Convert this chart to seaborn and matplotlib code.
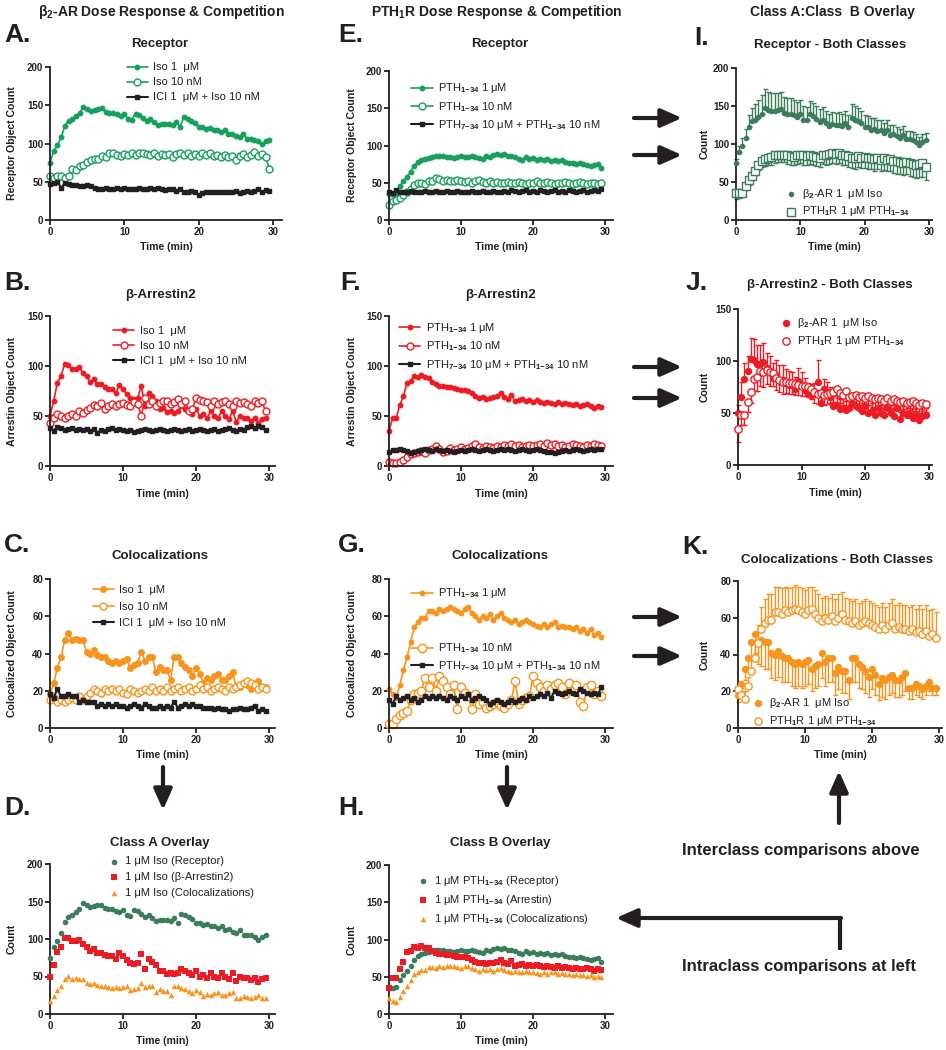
import matplotlib
matplotlib.use("Agg")
import matplotlib.pyplot as plt
import seaborn as sns

# ---- data, time in minutes ----
time_min = [0, 0.5, 1, 1.5, 2, 2.5, 3, 3.5, 4, 4.5, 5, 5.5, 6, 6.5, 7, 7.5, 8, 8.5, 9, 9.5,
            10, 10.5, 11, 11.5, 12, 12.5, 13, 13.5, 14, 14.5, 15, 15.5, 16, 16.5, 17, 17.5, 18, 18.5, 19, 19.5,
            20, 20.5, 21, 21.5, 22, 22.5, 23, 23.5, 24, 24.5, 25, 25.5, 26, 26.5, 27, 27.5, 28, 28.5, 29, 29.5]

# beta2-AR panels (A-C)
a_iso_1uM = [75, 90, 98, 108, 123, 130, 132, 136, 140, 148, 145, 143, 144, 145, 146, 141, 140, 140, 138, 136,
             139, 132, 131, 139, 137, 133, 129, 132, 128, 124, 126, 125, 125, 124, 128, 122, 134, 132, 130, 127,
             122, 122, 119, 120, 117, 118, 115, 118, 112, 113, 110, 108, 112, 106, 106, 105, 103, 99, 103, 105]
a_iso_10nM = [58, 55, 58, 57, 55, 57, 67, 66, 70, 72, 76, 78, 80, 80, 84, 83, 87, 88, 85, 84,
              86, 85, 87, 85, 88, 87, 86, 85, 87, 84, 86, 85, 86, 83, 86, 87, 85, 87, 84, 86,
              84, 87, 85, 87, 84, 85, 83, 85, 82, 84, 78, 84, 86, 83, 85, 89, 84, 86, 82, 67]
a_ici = [47, 49, 50, 42, 48, 47, 46, 46, 45, 45, 46, 44, 42, 40, 41, 42, 40, 41, 42, 41,
         42, 40, 41, 40, 42, 41, 40, 42, 41, 42, 40, 39, 40, 41, 38, 40, 37, 36, 38, 36,
         33, 35, 37, 36, 37, 36, 37, 36, 37, 36, 38, 35, 37, 38, 36, 38, 40, 37, 39, 38]

b_iso_1uM = [50, 65, 83, 90, 102, 101, 97, 97, 99, 93, 90, 84, 87, 82, 82, 79, 77, 77, 73, 81,
             77, 72, 68, 67, 68, 80, 60, 73, 70, 65, 57, 58, 54, 55, 53, 55, 60, 57, 55, 52,
             57, 50, 52, 48, 55, 50, 48, 55, 50, 47, 55, 44, 50, 48, 48, 45, 48, 43, 47, 48]
b_iso_10nM = [43, 48, 52, 50, 48, 50, 52, 50, 55, 53, 56, 58, 61, 60, 63, 57, 60, 62, 60, 62,
              63, 61, 60, 64, 62, 50, 68, 62, 65, 60, 63, 65, 65, 62, 64, 67, 62, 65, 55, 57,
              68, 66, 65, 64, 60, 65, 62, 64, 65, 62, 60, 65, 63, 64, 62, 60, 65, 63, 65, 55]
b_ici = [38, 35, 39, 38, 36, 37, 38, 36, 37, 36, 37, 35, 37, 33, 36, 35, 37, 38, 36, 37,
         36, 35, 36, 34, 35, 36, 37, 36, 35, 36, 37, 36, 35, 36, 37, 36, 35, 36, 37, 35,
         36, 37, 36, 35, 36, 37, 35, 36, 37, 38, 36, 35, 37, 36, 39, 40, 38, 40, 39, 36]

c_iso_1uM = [18, 24, 32, 38, 47, 51, 47, 48, 47, 47, 41, 40, 42, 39, 38, 38, 36, 35, 36, 35,
             36, 37, 32, 34, 35, 41, 36, 38, 38, 30, 33, 31, 31, 26, 38, 38, 35, 33, 31, 28,
             32, 29, 24, 27, 26, 28, 29, 26, 26, 28, 30, 22, 22, 24, 23, 21, 23, 25, 22, 22]
c_iso_10nM = [15, 16, 14, 15, 14, 15, 16, 15, 17, 15, 17, 19, 21, 20, 19, 21, 20, 21, 20, 21,
              19, 18, 21, 20, 19, 20, 21, 20, 22, 20, 21, 20, 22, 20, 21, 22, 20, 21, 22, 20,
              21, 23, 21, 22, 20, 21, 22, 21, 20, 22, 21, 22, 23, 24, 25, 24, 23, 21, 22, 21]
c_ici = [18, 16, 21, 17, 17, 18, 17, 17, 14, 15, 14, 14, 14, 12, 13, 12, 13, 12, 13, 12,
         12, 11, 12, 13, 12, 11, 13, 12, 11, 11, 12, 11, 12, 11, 14, 11, 12, 13, 12, 13,
         12, 12, 11, 11, 11, 10, 11, 10, 10, 9, 10, 10, 11, 10, 10, 11, 12, 9, 10, 9]

# PTH1R panels (E-G)
e_pth_1uM = [35, 35, 36, 45, 52, 58, 65, 73, 78, 80, 82, 83, 85, 86, 86, 86, 85, 84, 83, 85,
             86, 85, 84, 86, 84, 83, 82, 86, 85, 87, 88, 87, 88, 86, 86, 84, 82, 81, 84, 82,
             83, 81, 82, 80, 82, 79, 81, 79, 80, 78, 77, 76, 75, 76, 75, 74, 72, 74, 75, 70]
e_pth_10nM = [20, 25, 27, 30, 33, 38, 42, 47, 50, 50, 48, 52, 53, 57, 55, 53, 54, 52, 53, 54,
              52, 51, 53, 50, 52, 54, 51, 50, 52, 50, 51, 50, 49, 51, 50, 49, 51, 50, 48, 50,
              49, 52, 50, 49, 51, 50, 48, 50, 49, 51, 50, 48, 49, 51, 50, 48, 49, 50, 48, 49]
e_pth734 = [38, 36, 40, 37, 38, 37, 39, 38, 37, 38, 39, 37, 38, 39, 38, 37, 39, 38, 37, 39,
            38, 37, 38, 39, 37, 38, 39, 37, 38, 39, 38, 37, 39, 38, 40, 39, 38, 39, 40, 38,
            39, 38, 40, 39, 38, 39, 40, 38, 39, 38, 40, 39, 38, 39, 40, 38, 39, 40, 39, 41]

f_pth_1uM = [35, 48, 48, 61, 70, 83, 85, 90, 89, 91, 89, 88, 84, 82, 80, 80, 79, 79, 78, 77,
             76, 76, 75, 73, 70, 68, 69, 67, 68, 69, 70, 73, 69, 67, 71, 65, 66, 67, 65, 66,
             64, 66, 64, 63, 64, 63, 62, 64, 62, 63, 62, 61, 62, 60, 61, 62, 60, 58, 60, 59]
f_pth_10nM = [4, 3, 3, 4, 6, 9, 12, 13, 14, 15, 13, 16, 17, 20, 17, 14, 15, 18, 16, 17,
              19, 17, 18, 20, 22, 19, 18, 20, 19, 18, 20, 19, 21, 20, 22, 20, 21, 19, 20, 21,
              20, 21, 22, 20, 23, 21, 22, 20, 21, 19, 20, 22, 21, 20, 19, 21, 20, 22, 21, 20]
f_pth734 = [14, 16, 16, 17, 16, 15, 13, 14, 15, 16, 17, 16, 15, 17, 16, 15, 16, 15, 14, 15,
            16, 15, 16, 17, 16, 15, 16, 17, 16, 15, 16, 17, 16, 17, 16, 15, 16, 17, 16, 15,
            16, 17, 16, 15, 14, 14, 13, 14, 15, 16, 15, 16, 17, 16, 15, 16, 17, 16, 17, 17]

g_pth_1uM = [21, 18, 16, 23, 31, 38, 46, 54, 57, 59, 59, 63, 63, 62, 64, 63, 64, 65, 64, 63,
             62, 64, 65, 62, 60, 58, 60, 59, 61, 58, 60, 62, 59, 58, 57, 58, 56, 57, 58, 57,
             56, 55, 54, 56, 54, 56, 57, 54, 55, 54, 54, 53, 54, 52, 53, 51, 53, 50, 51, 49]
g_pth_10nM = [2, 2, 5, 7, 8, 9, 15, 18, 19, 20, 27, 22, 27, 20, 28, 25, 22, 18, 23, 10,
              22, 19, 17, 10, 18, 13, 14, 11, 12, 13, 14, 12, 11, 13, 15, 25, 13, 15, 16, 17,
              28, 24, 22, 20, 23, 21, 23, 24, 22, 18, 24, 20, 23, 14, 12, 22, 23, 18, 20, 17]
g_pth734 = [15, 13, 17, 15, 16, 17, 15, 16, 14, 15, 17, 16, 17, 16, 17, 16, 15, 17, 16, 15,
            17, 16, 18, 15, 16, 17, 16, 15, 13, 14, 15, 14, 13, 14, 15, 14, 15, 16, 15, 17,
            16, 17, 18, 17, 19, 16, 20, 19, 18, 19, 20, 19, 18, 21, 20, 19, 18, 19, 18, 22]

# SEM shown one-sided in the class overlays (I-K)
i_err_b2 = [5, 8, 10, 12, 15, 18, 20, 22, 25, 25, 24, 24, 23, 22, 22, 21, 21, 20, 20, 19,
            19, 18, 18, 18, 17, 17, 17, 17, 16, 16, 16, 16, 17, 16, 16, 16, 18, 18, 17, 16,
            16, 15, 15, 14, 14, 14, 13, 13, 13, 12, 12, 12, 12, 11, 11, 11, 10, 10, 10, 10]
i_err_pth = [7, 6, 6, 6, 6, 6, 6, 7, 8, 9, 10, 10, 10, 10, 10, 10, 11, 11, 11, 11,
             11, 12, 12, 12, 12, 12, 12, 12, 13, 13, 13, 13, 13, 13, 13, 14, 14, 14, 14, 14,
             14, 14, 15, 15, 15, 15, 15, 15, 15, 16, 16, 16, 16, 16, 17, 17, 17, 18, 18, 18]
j_err_b2 = [8, 15, 15, 15, 20, 20, 18, 18, 18, 15, 15, 14, 14, 14, 14, 13, 13, 12, 12, 12,
            12, 12, 11, 11, 11, 21, 10, 10, 10, 10, 9, 9, 9, 9, 9, 9, 9, 8, 8, 8,
            8, 8, 8, 8, 8, 8, 8, 8, 8, 7, 7, 7, 7, 7, 7, 7, 7, 7, 7, 7]
j_err_pth = [13, 10, 10, 10, 10, 12, 14, 14, 14, 13, 13, 12, 12, 12, 12, 11, 11, 11, 11, 10,
             10, 10, 10, 10, 10, 9, 9, 9, 9, 9, 9, 9, 9, 9, 9, 8, 8, 8, 8, 8,
             8, 8, 8, 8, 8, 8, 8, 8, 8, 8, 8, 8, 8, 8, 8, 8, 8, 8, 8, 8]
k_err_b2 = [4, 5, 6, 6, 8, 10, 12, 14, 15, 15, 14, 14, 14, 14, 13, 13, 13, 13, 13, 13,
            13, 13, 12, 12, 12, 14, 13, 13, 13, 12, 12, 12, 12, 10, 13, 13, 13, 12, 12, 11,
            11, 11, 9, 10, 10, 10, 10, 9, 9, 10, 10, 6, 6, 6, 6, 5, 5, 5, 4, 4]
k_err_pth = [3, 4, 4, 5, 6, 8, 10, 12, 13, 14, 14, 14, 14, 14, 13, 13, 13, 13, 13, 13,
             13, 13, 12, 13, 13, 13, 12, 12, 12, 12, 13, 12, 12, 12, 12, 12, 12, 12, 12, 12,
             12, 12, 12, 12, 12, 12, 13, 13, 13, 13, 13, 13, 13, 13, 14, 14, 14, 14, 14, 14]

# ---- style ----
sns.set_style("ticks")
plt.rcParams['font.family'] = ['Liberation Sans', 'DejaVu Sans']
plt.rcParams['font.weight'] = 'bold'
plt.rcParams['axes.labelweight'] = 'bold'
plt.rcParams['mathtext.fontset'] = 'custom'
plt.rcParams['mathtext.rm'] = 'Liberation Sans'
plt.rcParams['mathtext.it'] = 'Liberation Sans:italic'
plt.rcParams['mathtext.bf'] = 'Liberation Sans:bold'

INK = '#231f20'
GREEN = '#17a05d'
DKGREEN = '#3b7d5a'
RED = '#ed1c24'
ORANGE = '#f7941d'

W, H = 946, 1050
fig = plt.figure(figsize=(W / 100, H / 100), dpi=100)

# background layer in pixel coords for headers and arrows
bg = fig.add_axes([0, 0, 1, 1], zorder=-1)
bg.set_xlim(0, W)
bg.set_ylim(H, 0)
bg.axis('off')


def panel(l, t, r, b, xmax, ymax, yticks, ylabel, dist):
    ax = fig.add_axes([l / W, 1 - b / H, (r - l) / W, (b - t) / H])
    ax.set_xlim(0, xmax)
    ax.set_ylim(0, ymax)
    ax.set_xticks([0, 10, 20, 30])
    ax.set_yticks(yticks)
    sns.despine(ax=ax)
    for s in ['left', 'bottom']:
        ax.spines[s].set_linewidth(1.3)
        ax.spines[s].set_color(INK)
    ax.tick_params(length=3.5, width=1.3, labelsize=7, pad=1.5, color=INK, labelcolor=INK)
    ax.set_xlabel('Time (min)', fontsize=7.6, labelpad=4, color=INK)
    ax.set_ylabel(ylabel, fontsize=7.6, color=INK)
    ax.yaxis.set_label_coords(-(dist - 5) / (r - l), 0.5)
    ax.patch.set_alpha(0)
    return ax


def trace(ax, y, color, marker, filled, ms, label, lw=1.2):
    sns.lineplot(x=time_min, y=y, ax=ax, color=color, marker=marker, markersize=ms,
                 markerfacecolor=color if filled else 'white', markeredgecolor=color,
                 markeredgewidth=1.0, linewidth=lw, label=label, errorbar=None, clip_on=False)


def dots(ax, y, color, marker, filled, s, label, lw=1.0):
    sns.scatterplot(x=time_min, y=y, ax=ax, color=color, marker=marker, s=s,
                    facecolor=color if filled else 'white', edgecolor=color,
                    linewidth=lw if not filled else 0, label=label, clip_on=False, zorder=3)


def bars(ax, y, err, color, up=True):
    zero = [0] * len(err)
    ax.errorbar(time_min, y, yerr=[zero, err] if up else [err, zero], fmt='none', ecolor=color,
                elinewidth=1.0, capsize=1.8, capthick=1.0, clip_on=False, zorder=2)


def legend(ax, x, y, idx=None, hl=1.9, sp=0.45, fs=8):
    h, lab = ax.get_legend_handles_labels()
    if idx is not None:
        h = [h[i] for i in idx]
        lab = [lab[i] for i in idx]
    leg = ax.legend(h, lab, loc='upper left', bbox_to_anchor=(x, y), frameon=False,
                    prop={'size': fs, 'weight': 'normal'}, handlelength=hl, handletextpad=0.5,
                    labelspacing=sp, borderpad=0, borderaxespad=0)
    for t in leg.get_texts():
        t.set_color(INK)
    return leg


iso1 = 'Iso 1  μM'
iso10 = 'Iso 10 nM'
ici = 'ICI 1  μM + Iso 10 nM'
pth1 = r'PTH$_{1\mathrm{-}34}$ 1 μM'
pth10 = r'PTH$_{1\mathrm{-}34}$ 10 nM'
pth734 = r'PTH$_{7\mathrm{-}34}$ 10 μM + PTH$_{1\mathrm{-}34}$ 10 nM'

# ---- column 1: beta2-AR ----
axA = panel(50, 67, 282, 220, 31.2, 200, [0, 50, 100, 150, 200], 'Receptor Object Count', 38)
trace(axA, a_iso_1uM, GREEN, 'o', True, 3.2, iso1)
trace(axA, a_iso_10nM, GREEN, 'o', False, 5, iso10)
trace(axA, a_ici, INK, 's', True, 3.5, ici, lw=1.5)
legend(axA, 0.33, 1.03)

axB = panel(50, 316, 275, 466, 30.8, 150, [0, 50, 100, 150], 'Arrestin Object Count', 38)
trace(axB, b_iso_1uM, RED, 'o', True, 3.2, iso1)
trace(axB, b_iso_10nM, RED, 'o', False, 5, iso10)
trace(axB, b_ici, INK, 's', True, 3.5, ici, lw=1.5)
legend(axB, 0.28, 0.935)

axC = panel(50, 579, 275, 728, 30.8, 80, [0, 20, 40, 60, 80], 'Colocalized Object Count', 38)
trace(axC, c_iso_1uM, ORANGE, 'o', True, 4, iso1)
trace(axC, c_iso_10nM, ORANGE, 'o', False, 5, iso10)
trace(axC, c_ici, INK, 's', True, 3.5, ici, lw=1.5)
legend(axC, 0.19, 0.96, sp=0.6)

axD = panel(50, 864, 275, 1014, 30.8, 200, [0, 50, 100, 150, 200], 'Count', 38)
dots(axD, a_iso_1uM, DKGREEN, 'o', True, 16, '1 μM Iso (Receptor)')
dots(axD, b_iso_1uM, RED, 's', True, 18, '1 μM Iso (β-Arrestin2)')
dots(axD, c_iso_1uM, ORANGE, '^', True, 16, '1 μM Iso (Colocalizations)')
legend(axD, 0.26, 1.05, hl=1.0, sp=0.5)

# ---- column 2: PTH1R ----
axE = panel(389, 71, 613, 220, 31.1, 200, [0, 50, 100, 150, 200], 'Receptor Object Count', 37)
trace(axE, e_pth_1uM, GREEN, 'o', True, 3.2, pth1)
trace(axE, e_pth_10nM, GREEN, 'o', False, 5, pth10)
trace(axE, e_pth734, INK, 's', True, 3.5, pth734, lw=1.5)
legend(axE, 0.10, 0.93, sp=0.4)

axF = panel(389, 316, 613, 466, 31.1, 150, [0, 50, 100, 150], 'Arrestin Object Count', 37)
trace(axF, f_pth_1uM, RED, 'o', True, 3.2, pth1)
trace(axF, f_pth_10nM, RED, 'o', False, 5, pth10)
trace(axF, f_pth734, INK, 's', True, 3.5, pth734, lw=1.5)
legend(axF, 0.045, 0.965, sp=0.4)

axG = panel(389, 579, 613, 728, 31.1, 80, [0, 20, 40, 60, 80], 'Colocalized Object Count', 37)
trace(axG, g_pth_1uM, ORANGE, 'o', True, 3.2, pth1)
trace(axG, g_pth_10nM, ORANGE, 'o', False, 6, pth10)
trace(axG, g_pth734, INK, 's', True, 3.5, pth734, lw=1.5)
legG = legend(axG, 0.10, 0.95, idx=[0])
axG.add_artist(legG)
legend(axG, 0.10, 0.58, idx=[1, 2], sp=0.35)

axH = panel(389, 865, 613, 1014, 31.1, 200, [0, 50, 100, 150, 200], 'Count', 37)
dots(axH, e_pth_1uM, DKGREEN, 'o', True, 16, r'1 μM PTH$_{1\mathrm{-}34}$ (Receptor)')
dots(axH, f_pth_1uM, RED, 's', True, 18, r'1 μM PTH$_{1\mathrm{-}34}$ (Arrestin)')
dots(axH, g_pth_1uM, ORANGE, '^', True, 16, r'1 μM PTH$_{1\mathrm{-}34}$ (Colocalizations)')
legend(axH, 0.125, 0.94, hl=1.0, sp=0.45)

# ---- column 3: class A vs class B ----
b2_lab = r'β$_2$-AR 1  μM Iso'
pth_lab = r'PTH$_1$R 1 μM PTH$_{1\mathrm{-}34}$'

axI = panel(736, 68, 932, 220, 30.5, 200, [0, 50, 100, 150, 200], 'Count', 31)
bars(axI, a_iso_1uM, i_err_b2, DKGREEN, up=True)
bars(axI, e_pth_1uM, i_err_pth, DKGREEN, up=False)
dots(axI, a_iso_1uM, DKGREEN, 'o', True, 16, b2_lab)
dots(axI, e_pth_1uM, DKGREEN, 's', False, 30, pth_lab)
legend(axI, 0.25, 0.22, hl=1.0, sp=0.35)

axJ = panel(738, 309, 932, 465, 30.5, 150, [0, 50, 100, 150], 'Count', 33)
bars(axJ, b_iso_1uM, j_err_b2, RED, up=True)
bars(axJ, f_pth_1uM, j_err_pth, RED, up=False)
dots(axJ, b_iso_1uM, RED, 'o', True, 28, b2_lab)
dots(axJ, f_pth_1uM, RED, 'o', False, 28, pth_lab)
legend(axJ, 0.22, 0.955, hl=1.0, sp=0.35)

axK = panel(738, 581, 942, 728, 30.45, 80, [0, 20, 40, 60, 80], 'Count', 33)
bars(axK, c_iso_1uM, k_err_b2, ORANGE, up=False)
bars(axK, g_pth_1uM, k_err_pth, ORANGE, up=True)
dots(axK, c_iso_1uM, ORANGE, 'o', True, 28, b2_lab)
dots(axK, g_pth_1uM, ORANGE, 'o', False, 28, pth_lab)
legend(axK, 0.07, 0.22, hl=1.0, sp=0.35)

# ---- headers, panel letters, titles ----
hdr = dict(fontsize=10, fontweight='bold', ha='center', va='center', color=INK)
bg.text(161, 12, r'β$_\mathbf{2}$-AR Dose Response & Competition', **hdr)
bg.text(497, 12, r'PTH$_\mathbf{1}$R Dose Response & Competition', **hdr)
bg.text(832, 12, 'Class A:Class  B Overlay', **hdr)

let = dict(fontsize=19, fontweight='bold', ha='left', va='center', color=INK)
for s, x, y in [('A.', 4, 35), ('E.', 338, 35), ('I.', 694, 38),
                ('B.', 4, 283), ('F.', 340, 283), ('J.', 686, 283),
                ('C.', 4, 545), ('G.', 338, 545), ('K.', 682, 547),
                ('D.', 4, 808), ('H.', 338, 808)]:
    bg.text(x, y, s, **let)

ttl = dict(fontsize=9.5, fontweight='bold', ha='center', va='center', color=INK)
for s, x, y in [('Receptor', 160, 44), ('Receptor', 500, 44), ('Receptor - Both Classes', 830, 45),
                ('β-Arrestin2', 160, 295), ('β-Arrestin2', 500, 295), ('β-Arrestin2 - Both Classes', 830, 285),
                ('Colocalizations', 160, 556), ('Colocalizations', 500, 556),
                ('Colocalizations - Both Classes', 837, 560),
                ('Class A Overlay', 160, 843), ('Class B Overlay', 500, 843)]:
    bg.text(x, y, s, **ttl)


def arrow(x0, y0, x1, y1):
    bg.annotate('', xy=(x1, y1), xytext=(x0, y0),
                arrowprops=dict(arrowstyle='-|>,head_length=0.9,head_width=0.4', lw=3, color=INK,
                                mutation_scale=14, shrinkA=0, shrinkB=0))


for y in [118, 155, 367, 398, 617, 656]:
    arrow(634, y, 682, y)
arrow(163, 767, 163, 810)
arrow(507, 767, 507, 810)
arrow(839, 823, 839, 771)
bg.plot([840, 840], [950, 918], color=INK, lw=3, solid_capstyle='butt')
arrow(841, 918, 616, 918)

note = dict(fontsize=12, fontweight='bold', ha='center', va='center', color=INK)
bg.text(801, 850, 'Interclass comparisons above', **note)
bg.text(799, 966, 'Intraclass comparisons at left', **note)

fig.savefig('out.png', dpi=100)
